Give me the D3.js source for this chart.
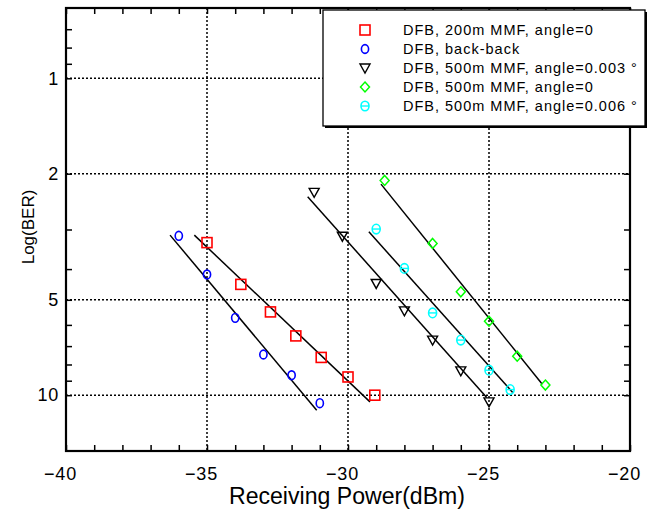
<!DOCTYPE html>
<html>
<head>
<meta charset="utf-8">
<script src="https://cdn.jsdelivr.net/npm/d3@7"></script>
<style>
  body { margin: 0; background: #fff; }
  svg { display: block; font-family: "Liberation Sans", Arial, sans-serif; }
</style>
</head>
<body>
<div id="chart"></div>
<script>
// data: x = receiving power (dBm), y = -log(BER)
const xTicks = [-40, -35, -30, -25, -20];
const yTicks = [1, 2, 5, 10];
const yMinor = [0.7, 0.8, 0.9, 3, 4, 6, 7, 8, 9];

const seriesNames = [
  "DFB, 200m MMF, angle=0",
  "DFB, back-back",
  "DFB, 500m MMF, angle=0.003 °",
  "DFB, 500m MMF, angle=0",
  "DFB, 500m MMF, angle=0.006 °"
];
const seriesColors = ["#ff0000", "#0000ff", "#000000", "#00ff00", "#00ffff"];
const seriesShapes = ["square", "oval", "triangle", "diamond", "theta"];

const redX   = [-35, -33.8, -32.75, -31.85, -30.95, -30.0, -29.05];
const redY   = [3.30, 4.47, 5.46, 6.50, 7.60, 8.76, 10.0];
const blueX  = [-36, -35, -34, -33, -32, -31];
const blueY  = [3.14, 4.16, 5.70, 7.44, 8.65, 10.6];
const blackX = [-31.2, -30.2, -29, -28, -27, -26, -25];
const blackY = [2.29, 3.15, 4.44, 5.42, 6.70, 8.38, 10.5];
const greenX = [-28.7, -27, -26, -25, -24, -23];
const greenY = [2.10, 3.32, 4.72, 5.84, 7.53, 9.29];
const cyanX  = [-29, -28, -27, -26, -25, -24.25];
const cyanY  = [2.99, 3.98, 5.50, 6.70, 8.34, 9.60];

// fitted lines, endpoints in data units [x0, y0, x1, y1]
const fitLines = [
  [-35.45, 3.125, -29.22, 10.50],
  [-36.31, 3.125, -31.11, 11.15],
  [-31.43, 2.365, -25.08, 10.17],
  [-28.83, 2.157, -23.11, 9.23],
  [-29.26, 3.05, -24.16, 9.80]
];

const seriesX = [redX, blueX, blackX, greenX, cyanX];
const seriesY = [redY, blueY, blackY, greenY, cyanY];

const width = 652, height = 514;
const margin = { top: 8, right: 22, bottom: 63, left: 66 };
const innerWidth = width - margin.left - margin.right;
const innerHeight = height - margin.top - margin.bottom;

const svg = d3.select("#chart").append("svg")
  .attr("viewBox", `0 0 ${width} ${height}`)
  .attr("width", width)
  .attr("height", height);

const chart = svg.append("g").attr("transform", `translate(${margin.left},${margin.top})`);

const x = d3.scaleLinear().domain([-40, -20]).range([0, innerWidth]);
const y = d3.scaleLog().domain([0.6, 15]).range([0, innerHeight]);

// dotted grid
chart.append("g").selectAll("line")
  .data(xTicks.slice(1, -1))
  .join("line")
    .attr("x1", d => x(d)).attr("x2", d => x(d))
    .attr("y1", 0).attr("y2", innerHeight)
    .attr("stroke", "#000").attr("stroke-width", 1.5)
    .attr("stroke-dasharray", "2,2");

chart.append("g").selectAll("line")
  .data(yTicks)
  .join("line")
    .attr("x1", 0).attr("x2", innerWidth)
    .attr("y1", d => y(d)).attr("y2", d => y(d))
    .attr("stroke", "#000").attr("stroke-width", 1.5)
    .attr("stroke-dasharray", "2,2");

// axes: minor ticks everywhere, labels only on the major values
const xMinor = d3.range(-40, -19, 1);
const allY = yTicks.concat(yMinor);

chart.append("g")
  .attr("transform", `translate(0,${innerHeight})`)
  .call(d3.axisBottom(x).tickValues(xMinor).tickSize(-6).tickFormat(""));
const xLab = chart.append("g")
  .attr("transform", `translate(0,${innerHeight})`)
  .call(d3.axisBottom(x).tickValues(xTicks).tickSize(0).tickPadding(16));

chart.append("g")
  .call(d3.axisTop(x).tickValues(xMinor).tickSize(-6).tickFormat(""));

chart.append("g")
  .call(d3.axisLeft(y).tickValues(allY).tickSize(-6).tickFormat(""));
const yLab = chart.append("g")
  .call(d3.axisLeft(y).tickValues(yTicks).tickSize(0).tickPadding(7).tickFormat(d3.format("d")));

chart.append("g")
  .attr("transform", `translate(${innerWidth},0)`)
  .call(d3.axisRight(y).tickValues(allY).tickSize(-6).tickFormat(""));

chart.selectAll(".domain").remove();
chart.selectAll(".tick line").attr("stroke", "#000").attr("stroke-width", 1.5);
chart.selectAll(".tick text").filter(function () { return this.textContent === ""; }).remove();
[xLab, yLab].forEach(g => g
  .attr("font-size", 18)
  .attr("font-family", "'Liberation Sans', Arial, sans-serif"));
chart.selectAll(".tick text")
  .attr("fill", "#000")
  .attr("letter-spacing", "0.8px");
// digits centred on the tick, minus sign hangs to the left
xLab.selectAll(".tick text").attr("dx", -6);

chart.append("rect")
  .attr("width", innerWidth).attr("height", innerHeight)
  .attr("fill", "none").attr("stroke", "#000").attr("stroke-width", 2.2);

// marker drawer
function drawMarker(g, shape, color) {
  if (shape === "square") {
    g.append("rect").attr("x", -5).attr("y", -5).attr("width", 10).attr("height", 10)
      .attr("fill", "none").attr("stroke", color).attr("stroke-width", 1.6);
  } else if (shape === "oval") {
    g.append("ellipse").attr("rx", 3.6).attr("ry", 4.4)
      .attr("fill", "none").attr("stroke", color).attr("stroke-width", 1.6);
  } else if (shape === "triangle") {
    g.append("path").attr("d", "M-5,-4L5,-4L0,5Z")
      .attr("fill", "none").attr("stroke", color).attr("stroke-width", 1.4);
  } else if (shape === "diamond") {
    g.append("path").attr("d", "M0,-5L4.5,0L0,5L-4.5,0Z")
      .attr("fill", "none").attr("stroke", color).attr("stroke-width", 1.5);
  } else if (shape === "theta") {
    g.append("ellipse").attr("rx", 4).attr("ry", 4.8)
      .attr("fill", "none").attr("stroke", color).attr("stroke-width", 1.6);
    g.append("line").attr("x1", -4).attr("x2", 4)
      .attr("stroke", color).attr("stroke-width", 1.4);
  }
}

// fit lines
chart.append("g").selectAll("line")
  .data(fitLines)
  .join("line")
    .attr("x1", d => x(d[0])).attr("y1", d => y(d[1]))
    .attr("x2", d => x(d[2])).attr("y2", d => y(d[3]))
    .attr("stroke", "#000").attr("stroke-width", 1.5);

// points
seriesX.forEach((xs, i) => {
  xs.forEach((xv, j) => {
    const g = chart.append("g")
      .attr("transform", `translate(${x(xv)},${y(seriesY[i][j])})`);
    drawMarker(g, seriesShapes[i], seriesColors[i]);
  });
});

// axis titles
svg.append("text")
  .attr("x", 347).attr("y", 504)
  .attr("text-anchor", "middle")
  .attr("textLength", 236).attr("lengthAdjust", "spacingAndGlyphs")
  .style("font-size", "23px")
  .text("Receiving Power(dBm)");

svg.append("text")
  .attr("transform", "translate(34,227) rotate(-90)")
  .attr("text-anchor", "middle")
  .style("font-size", "17px")
  .text("Log(BER)");

// legend
const legend = svg.append("g").attr("transform", "translate(323,10)");
legend.append("rect").attr("x", 2).attr("y", 2).attr("width", 322).attr("height", 116).attr("fill", "#000");
legend.append("rect").attr("width", 322).attr("height", 116)
  .attr("fill", "#fff").attr("stroke", "#000").attr("stroke-width", 1.3);

seriesNames.forEach((name, i) => {
  const row = legend.append("g").attr("transform", `translate(0,${20 + i * 19})`);
  drawMarker(row.append("g").attr("transform", "translate(42,0)"), seriesShapes[i], seriesColors[i]);
  row.append("text").attr("x", 80).attr("y", 5)
    .style("font-size", "14.5px").style("letter-spacing", "1px")
    .text(name);
});
</script>
</body>
</html>
